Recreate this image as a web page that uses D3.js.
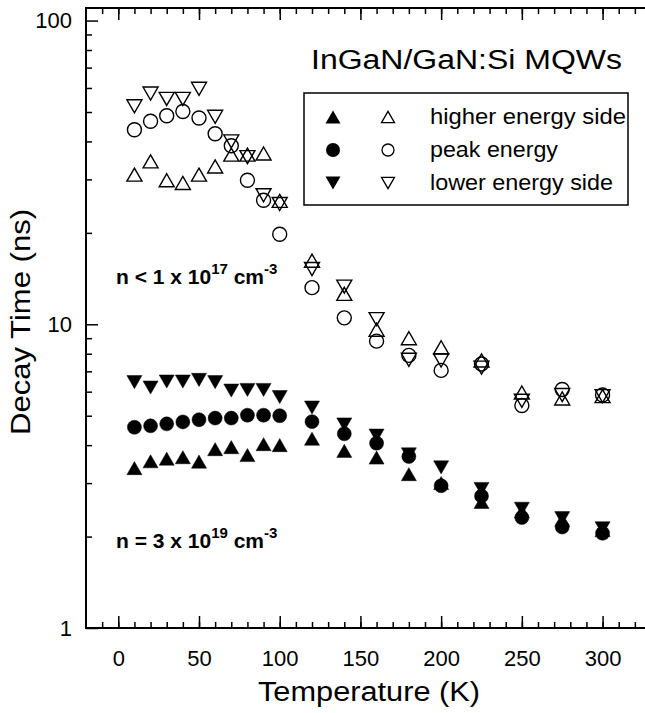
<!DOCTYPE html>
<html>
<head>
<meta charset="utf-8">
<script src="https://cdn.jsdelivr.net/npm/d3@7"></script>
<style>
  body { margin: 0; background: #fff; }
  svg { display: block; font-family: Arial, "Liberation Sans", Helvetica, sans-serif; }
</style>
</head>
<body>
<svg width="645" height="713"></svg>
<script>
// temperatures (K)
var temps = [10, 20, 30, 40, 50, 60, 70, 80, 90, 100, 120, 140, 160, 180, 200, 225, 250, 275, 300];

// n = 3 x 10^19 cm^-3 (filled symbols)
var hiUp   = [3.36, 3.54, 3.61, 3.65, 3.53, 3.88, 3.94, 3.71, 4.03, 4.0, 4.2, 3.83, 3.64, 3.21, 3.0, 2.6, 2.42, 2.27, 2.1];
var hiPeak = [4.58, 4.63, 4.70, 4.77, 4.85, 4.91, 4.91, 5.02, 5.02, 5.0, 4.78, 4.36, 4.06, 3.67, 2.94, 2.72, 2.31, 2.15, 2.05];
var hiDown = [6.45, 6.19, 6.48, 6.48, 6.56, 6.45, 6.05, 6.08, 6.08, 5.76, 5.32, 4.68, 4.30, 3.73, 3.38, 2.87, 2.47, 2.30, 2.13];

// n < 1 x 10^17 cm^-3 (open symbols)
var loUp   = [31.1, 34.4, 29.8, 29.2, 31.1, 33.1, 36.2, 36.2, 36.5, 25.5, 16.2, 12.6, 9.6, 9.0, 8.4, 7.6, 5.96, 5.7, 5.8];
var loPeak = [43.7, 46.6, 48.6, 50.2, 47.8, 42.4, 38.7, 29.8, 25.6, 19.8, 13.2, 10.5, 8.8, 7.9, 7.05, 7.4, 5.4, 6.1, 5.85];
var loDown = [52.2, 57.5, 55.2, 55.2, 59.6, 48.2, 40.0, 35.5, 26.6, 24.9, 15.2, 13.3, 10.4, 7.64, 7.6, 7.2, 5.6, 5.85, 5.8];

var xTicks = [0, 50, 100, 150, 200, 250, 300];
var yTicks = [1, 10, 100];
var legendLabels = ["higher energy side", "peak energy", "lower energy side"];

(function() {
var svg = d3.select("svg");
var mLeft = 86, mRight = 651, mTop = 8, mBottom = 628;

var x = d3.scaleLinear().domain([-20, 330]).range([mLeft, mRight]);
var y = d3.scaleLog().domain([1, 110]).range([mBottom, mTop]);

var g = svg.append("g");

// minor ticks on x (every 10)
var xMinor = d3.range(-10, 331, 10);
g.append("g").attr("transform", "translate(0," + mBottom + ")")
  .call(d3.axisBottom(x).tickValues(xMinor).tickSize(-6).tickFormat(""))
  .call(function(a) { a.select(".domain").remove(); });
g.append("g").attr("transform", "translate(0," + mBottom + ")")
  .call(d3.axisBottom(x).tickValues(xTicks).tickSize(-12).tickPadding(22).tickFormat(d3.format("d")))
  .call(function(a) { a.select(".domain").remove(); });
// top ticks
g.append("g").attr("transform", "translate(0," + mTop + ")")
  .call(d3.axisTop(x).tickValues(xMinor).tickSize(-6).tickFormat(""))
  .call(function(a) { a.select(".domain").remove(); });
g.append("g").attr("transform", "translate(0," + mTop + ")")
  .call(d3.axisTop(x).tickValues(xTicks).tickSize(-12).tickFormat(""))
  .call(function(a) { a.select(".domain").remove(); });

// y minor ticks
var yMinor = [];
[1, 10].forEach(function(d) { for (var k = 2; k <= 9; k++) yMinor.push(d * k); });
g.append("g").attr("transform", "translate(" + mLeft + ",0)")
  .call(d3.axisLeft(y).tickValues(yMinor).tickSize(-6).tickFormat(""))
  .call(function(a) { a.select(".domain").remove(); });
g.append("g").attr("transform", "translate(" + mLeft + ",0)")
  .call(d3.axisLeft(y).tickValues(yTicks).tickSize(-12).tickPadding(14).tickFormat(d3.format("d")))
  .call(function(a) { a.select(".domain").remove(); });

g.selectAll(".tick line").attr("stroke", "#000").attr("stroke-width", 1.5);
g.selectAll(".tick text").attr("fill", "#000").style("font-size", "22px")
  .style("font-family", "Arial, 'Liberation Sans', sans-serif");

g.append("path")
  .attr("d", "M" + mRight + "," + mTop + "H" + mLeft + "V" + mBottom + "H" + mRight)
  .attr("fill", "none").attr("stroke", "#000").attr("stroke-width", 2);

// axis titles
svg.append("text").attr("x", 369).attr("y", 701)
  .attr("text-anchor", "middle").style("font-size", "27px")
  .attr("textLength", 222).attr("lengthAdjust", "spacingAndGlyphs").text("Temperature (K)");
svg.append("text").attr("transform", "translate(30,322) rotate(-90)")
  .attr("text-anchor", "middle").style("font-size", "27px")
  .attr("textLength", 226).attr("lengthAdjust", "spacingAndGlyphs").text("Decay Time (ns)");

// markers
function tri(s, dir) {
  var h = s * 0.87;
  if (dir > 0) return "M0," + (-h / 2) + "L" + (s / 2) + "," + (h / 2) + "L" + (-s / 2) + "," + (h / 2) + "Z";
  return "M0," + (h / 2) + "L" + (s / 2) + "," + (-h / 2) + "L" + (-s / 2) + "," + (-h / 2) + "Z";
}
function circ(r) {
  return "M" + r + ",0A" + r + "," + r + " 0 1,1 " + (-r) + ",0A" + r + "," + r + " 0 1,1 " + r + ",0Z";
}
var shapes = { up: tri(15, 1), down: tri(15, -1), circle: circ(7) };

function plot(vals, shape, filled) {
  svg.append("g").selectAll("path")
    .data(vals.map(function(v, i) { return [temps[i], v]; }))
    .enter().append("path")
    .attr("d", shapes[shape])
    .attr("transform", function(d) { return "translate(" + x(d[0]) + "," + y(d[1]) + ")"; })
    .attr("fill", filled ? "#000" : "none")
    .attr("stroke", "#000")
    .attr("stroke-width", filled ? 0.5 : 1.4);
}
plot(loUp, "up", false);
plot(loPeak, "circle", false);
plot(loDown, "down", false);
plot(hiUp, "up", true);
plot(hiPeak, "circle", true);
plot(hiDown, "down", true);

// legend
var lg = svg.append("g");
lg.append("rect").attr("x", 304).attr("y", 93).attr("width", 324).attr("height", 112)
  .attr("fill", "#fff").attr("stroke", "#000").attr("stroke-width", 1.5);
var legShapes = ["up", "circle", "down"];
var legLen = [196, 128, 183];
legendLabels.forEach(function(lbl, i) {
  var yy = 117 + i * 33;
  lg.append("path").attr("d", shapes[legShapes[i]]).attr("transform", "translate(333," + yy + ")")
    .attr("fill", "#000");
  lg.append("path").attr("d", legShapes[i] === "circle" ? circ(6) : tri(13, legShapes[i] === "up" ? 1 : -1))
    .attr("transform", "translate(388," + yy + ")")
    .attr("fill", "none").attr("stroke", "#000").attr("stroke-width", 1.3);
  lg.append("text").attr("x", 430).attr("y", yy + 7).style("font-size", "22px")
    .attr("textLength", legLen[i]).attr("lengthAdjust", "spacingAndGlyphs").text(lbl);
});

// title
svg.append("text").attr("x", 311).attr("y", 69)
  .style("font-size", "27px")
  .attr("textLength", 311).attr("lengthAdjust", "spacingAndGlyphs").text("InGaN/GaN:Si MQWs");

// density labels
function density(yy, txt, exp) {
  var t = svg.append("text").attr("x", 116).attr("y", yy).style("font-size", "21px").style("font-weight", "bold");
  t.append("tspan").text(txt);
  t.append("tspan").attr("dy", -10).style("font-size", "15px").text(exp);
  t.append("tspan").attr("dy", 10).text(" cm");
  t.append("tspan").attr("dy", -10).style("font-size", "15px").text("-3");
}
density(284, "n < 1 x 10", "17");
density(548, "n = 3 x 10", "19");
})();
</script>
</body>
</html>
